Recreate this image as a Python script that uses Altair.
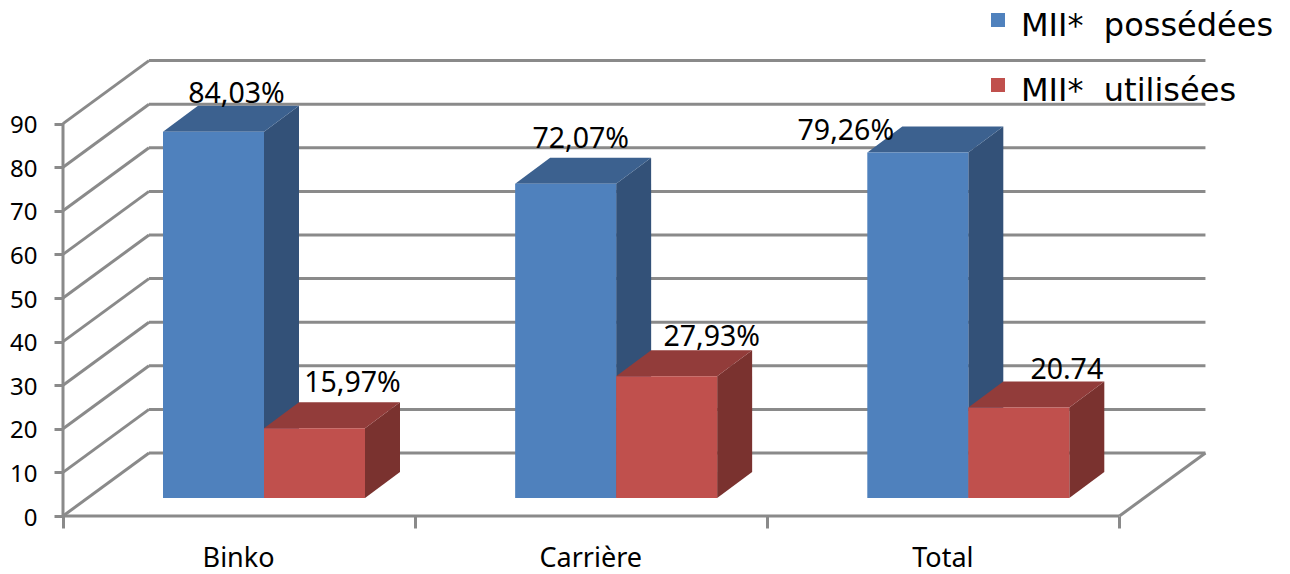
import json

import altair as alt
import pandas as pd

# Chart values
categories = ["Binko", "Carrière", "Total"]
series = ["MII*\u00a0\u00a0possédées", "MII*\u00a0\u00a0utilisées"]
possedees = [84.03, 72.07, 79.26]
utilisees = [15.97, 27.93, 20.74]
value_labels_possedees = ["84,03%", "72,07%", "79,26%"]
value_labels_utilisees = ["15,97%", "27,93%", "20.74"]
y_ticks = [0, 10, 20, 30, 40, 50, 60, 70, 80, 90]

# Layout of the drawing, in pixels
LEFT, BASE_Y = 63, 516
PX_X = 352.15    # one category on the x scale
PX_Y = 4.36      # one value unit on the y scale
PLOT_W, PLOT_H = 1290 - LEFT, BASE_Y


def xu(px):
    return px / PX_X


def yu(px):
    return px / PX_Y


WALL_DX, WALL_DY = xu(86), yu(63)     # depth of the floor and side wall
BAR_DX, BAR_DY = xu(35), yu(26)       # depth of a column
BAR_W = xu(101)                       # width of a column
BAR_START = xu(100)                   # gap before the first column of a group
BAR_BASE = yu(18)                     # lift of the column foot above the front edge

# Hand placed value labels: shift from the middle of a column's top front edge
label_shift_possedees = [(23, 29), (15, 36), (-72, 12)]
label_shift_utilisees = [(38, 36), (45, 30), (48, 29)]

COLORS = {
    series[0]: ("#4f81bd", "#3c618f", "#335178"),
    series[1]: ("#c0504d", "#923c3a", "#7a322f"),
}
GRID = "#8a8a8a"
TEXT = "#000000"

x_scale = alt.Scale(domain=[0, PLOT_W / PX_X], nice=False, zero=False)
y_scale = alt.Scale(domain=[0, PLOT_H / PX_Y], nice=False, zero=False)

# Columns and their three visible faces
fronts, tops, sides, labels = [], [], [], []
for i, cat in enumerate(categories):
    groups = [
        (0, series[0], possedees[i], value_labels_possedees[i], label_shift_possedees[i]),
        (1, series[1], utilisees[i], value_labels_utilisees[i], label_shift_utilisees[i]),
    ]
    for pos, name, val, text, shift in groups:
        x0 = i + BAR_START + pos * BAR_W
        x1 = x0 + BAR_W
        low = BAR_BASE
        high = BAR_BASE + val
        key = f"{cat}-{name}"
        fronts.append(dict(series=name, x0=x0, x1=x1, low=low, high=high, order=pos))
        _, top_col, side_col = COLORS[name]
        tops += [
            dict(key=key, y=high, xa=x0, xb=x1, pos=pos, col=top_col),
            dict(key=key, y=high + BAR_DY, xa=x0 + BAR_DX, xb=x1 + BAR_DX, pos=pos, col=top_col),
        ]
        sides += [
            dict(key=key, x=x1, low=low, high=high, pos=pos, col=side_col),
            dict(key=key, x=x1 + BAR_DX, low=low + BAR_DY, high=high + BAR_DY, pos=pos, col=side_col),
        ]
        labels.append(dict(
            text=text,
            x=(x0 + x1) / 2 + xu(shift[0]),
            y=high + yu(shift[1]),
        ))

front_df = pd.DataFrame(fronts)
top_df = pd.DataFrame(tops)
side_df = pd.DataFrame(sides)
label_df = pd.DataFrame(labels)

# Wall and floor lines of the chart box
n = len(categories)
lines = []
for v in y_ticks:
    lines.append(dict(x=0, y=v, x2=WALL_DX, y2=v + WALL_DY))
    lines.append(dict(x=WALL_DX, y=v + WALL_DY, x2=n + WALL_DX, y2=v + WALL_DY))
lines.append(dict(x=0, y=0, x2=0, y2=y_ticks[-1]))
lines.append(dict(x=0, y=0, x2=n, y2=0))
lines.append(dict(x=n, y=0, x2=n + WALL_DX, y2=WALL_DY))
line_df = pd.DataFrame(lines)

x_enc = alt.X(
    "x:Q", scale=x_scale, title=None,
    axis=alt.Axis(values=list(range(n + 1)), labels=False, domain=False, grid=False,
                  orient="bottom", tickSize=12, tickColor=GRID, tickWidth=3),
)
y_enc = alt.Y(
    "y:Q", scale=y_scale, title=None,
    axis=alt.Axis(values=y_ticks, domain=False, grid=False, tickSize=9, tickColor=GRID,
                  tickWidth=3, labelPadding=17, labelFont="Noto Sans", labelFontSize=24,
                  labelColor=TEXT, labelOffset=2),
)

box = alt.Chart(line_df).mark_rule(color=GRID, strokeWidth=3).encode(
    x=x_enc, y=y_enc, x2="x2:Q", y2="y2:Q",
)

# Category names sit mid-way between the ticks, on an axis of their own
cat_names = alt.Chart(pd.DataFrame({"x": [i + 0.5 for i in range(n)]})).mark_point(opacity=0).encode(
    x=alt.X(
        "x:Q", scale=x_scale, title=None,
        axis=alt.Axis(values=[i + 0.5 for i in range(n)], domain=False, grid=False, ticks=False,
                      orient="bottom",
                      labelExpr=f"{json.dumps(categories, ensure_ascii=False)}[floor(datum.value)]",
                      labelFont="Noto Sans", labelFontSize=27, labelColor=TEXT,
                      labelPadding=29, labelOffset=-1),
    ),
    y=alt.value(0),
)


def side_layer(pos):
    return alt.Chart(side_df[side_df.pos == pos]).mark_area().encode(
        x=alt.X("x:Q", scale=x_scale, axis=None),
        y=alt.Y("low:Q", scale=y_scale, axis=None),
        y2="high:Q",
        detail="key:N",
        color=alt.Color("col:N", scale=None),
    )


def top_layer(pos):
    return alt.Chart(top_df[top_df.pos == pos]).mark_area(orient="horizontal").encode(
        y=alt.Y("y:Q", scale=y_scale, axis=None),
        x=alt.X("xa:Q", scale=x_scale, axis=None),
        x2="xb:Q",
        detail="key:N",
        color=alt.Color("col:N", scale=None),
    )


def front_layer(pos):
    return alt.Chart(front_df[front_df.order == pos]).mark_bar().encode(
        x=alt.X("x0:Q", scale=x_scale, axis=None),
        x2="x1:Q",
        y=alt.Y("low:Q", scale=y_scale, axis=None),
        y2="high:Q",
        color=alt.Color(
            "series:N",
            scale=alt.Scale(domain=series, range=[COLORS[s][0] for s in series]),
            title=None,
            legend=alt.Legend(
                orient="none", legendX=919, legendY=10, padding=0,
                # square drawn a little above the line's centre
                symbolType="M-1,-1.86H1V.14H-1Z", symbolSize=196, symbolStrokeWidth=0,
                labelFont="DejaVu Sans", labelFontSize=32, labelColor=TEXT,
                labelLimit=400, labelOffset=7, rowPadding=33,
            ),
        ),
    )


value_text = alt.Chart(label_df).mark_text(
    font="Noto Sans", fontSize=28.5, color=TEXT, baseline="alphabetic", align="center",
).encode(
    x=alt.X("x:Q", scale=x_scale, axis=None),
    y=alt.Y("y:Q", scale=y_scale, axis=None),
    text="text:N",
)

chart = alt.layer(
    box,
    cat_names,
    side_layer(0), top_layer(0), front_layer(0),
    side_layer(1), top_layer(1), front_layer(1),
    value_text,
).resolve_axis(
    x="independent", y="independent",
).properties(
    width=PLOT_W,
    height=PLOT_H,
    padding={"left": LEFT, "top": 0, "right": 0, "bottom": 574 - BASE_Y},
    autosize=alt.AutoSizeParams(type="none"),
    background="white",
).configure_view(stroke=None)

chart.save("out.html", embed_options={"renderer": "svg", "actions": False})
